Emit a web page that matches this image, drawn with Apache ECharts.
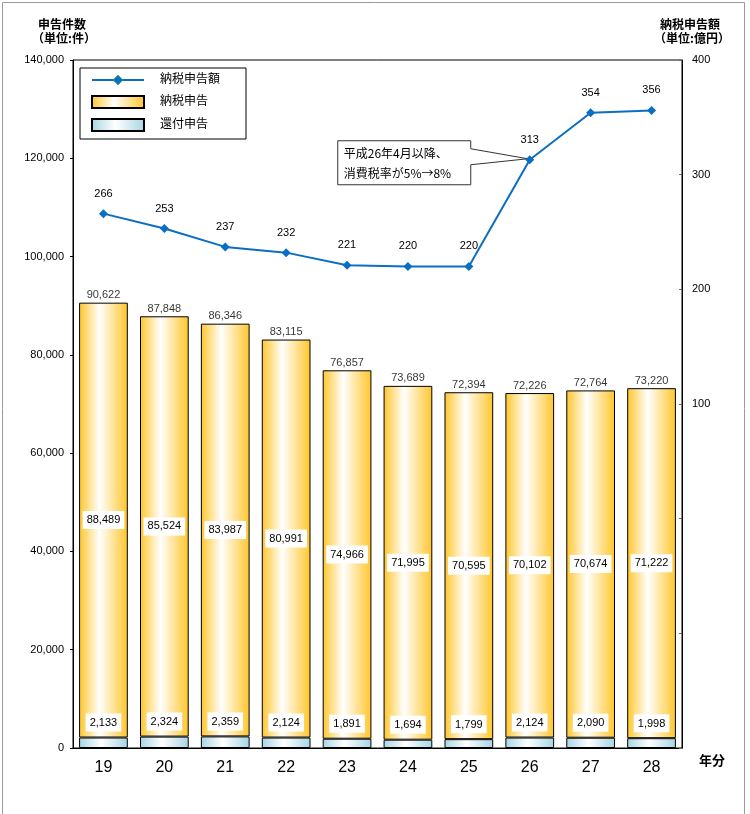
<!DOCTYPE html>
<html><head><meta charset="utf-8">
<script src="https://cdn.jsdelivr.net/npm/echarts@6/dist/echarts.min.js"></script>
<style>html,body{margin:0;padding:0;background:#fff}#c{width:750px;height:814px}</style>
</head><body><div id="c"></div>
<script>
var categories = ['19','20','21','22','23','24','25','26','27','28'];
var taxPayFiled = [88489, 85524, 83987, 80991, 74966, 71995, 70595, 70102, 70674, 71222];
var refundFiled = [2133, 2324, 2359, 2124, 1891, 1694, 1799, 2124, 2090, 1998];
var totalFiled  = [90622, 87848, 86346, 83115, 76857, 73689, 72394, 72226, 72764, 73220];
var taxAmount   = [266, 253, 237, 232, 221, 220, 220, 313, 354, 356];
var leftTicks = {min: 0, max: 140000, interval: 20000};
var rightTicks = {min: -200, max: 400, interval: 100};

var FF = "'Liberation Sans','Noto Sans CJK JP',sans-serif";
var FJ = "'Noto Sans CJK JP','Liberation Sans',sans-serif";
var chart = echarts.init(document.getElementById('c'));
var yellow = {type:'linear',x:0,y:0,x2:1,y2:0,colorStops:[
  {offset:0,color:'#FFC52A'},{offset:0.42,color:'#FFFFFF'},{offset:1,color:'#FFC52A'}]};
var blue = {type:'linear',x:0,y:0,x2:1,y2:0,colorStops:[
  {offset:0,color:'#A5D5E4'},{offset:0.45,color:'#FFFFFF'},{offset:1,color:'#A5D5E4'}]};
var lineColor = '#0A6EC4';
var fmt = function(v){ return Number(v).toLocaleString('en-US'); };

chart.setOption({
  animation: false,
  textStyle: {fontFamily: FF, color: '#000'},
  grid: {left: 73, right: 68, top: 60, bottom: 66, show: true, borderColor: '#000', borderWidth: 1},
  legend: {
    orient: 'vertical', left: 80, top: 68, padding: [6, 26, 7, 11], itemGap: 9,
    itemWidth: 52, itemHeight: 12,
    backgroundColor: '#fff', borderColor: '#000', borderWidth: 1, borderRadius: 0,
    textStyle: {fontSize: 12, fontFamily: FF, color: '#000', padding: [0,0,0,11]},
    data: [{name:'納税申告額', itemStyle: {borderColor: '#2E9E6A', borderWidth: 1}},
           {name:'納税申告', icon: 'rect'}, {name:'還付申告', icon: 'rect'}]
  },
  xAxis: {
    type: 'category', data: categories,
    axisLine: {lineStyle: {color: '#000', width: 1}},
    axisTick: {inside: true, length: 4, lineStyle: {color: '#666'}},
    axisLabel: {fontSize: 16, color: '#000', margin: 12, fontFamily: FF}
  },
  yAxis: [
    {type: 'value', min: leftTicks.min, max: leftTicks.max, interval: leftTicks.interval,
     splitLine: {show: false},
     axisLine: {show: true, lineStyle: {color: '#000'}},
     axisTick: {show: true, length: 3, lineStyle: {color: '#000'}},
     axisLabel: {fontSize: 11, color: '#000', margin: 9, formatter: function(v){return fmt(v);}}},
    {type: 'value', min: rightTicks.min, max: rightTicks.max, interval: rightTicks.interval,
     splitLine: {show: false},
     axisLine: {show: true, lineStyle: {color: '#000'}},
     axisTick: {show: true, inside: true, length: 3, lineStyle: {color: '#666'}},
     axisLabel: {fontSize: 11, color: '#000', margin: 10, formatter: function(v){return v >= 100 ? String(v) : '';}}}
  ],
  series: [
    {name: '還付申告', type: 'bar', stack: 'a', data: refundFiled, barWidth: '80%',
     itemStyle: {color: blue, borderColor: '#000', borderWidth: 1},
     label: {show: true, position: 'top', distance: 6, fontSize: 11, color: '#000',
       backgroundColor: '#fff', padding: [4, 4, 3, 4], formatter: function(p){return fmt(p.value);}}},
    {name: '納税申告', type: 'bar', stack: 'a', data: taxPayFiled, barWidth: '80%',
     itemStyle: {color: yellow, borderColor: '#000', borderWidth: 1},
     label: {show: true, position: 'inside', fontSize: 11, color: '#000',
       backgroundColor: '#fff', padding: [4, 4, 3, 4], formatter: function(p){return fmt(p.value);}}},
    {name: '合計', type: 'scatter', data: totalFiled, symbolSize: 0, silent: true,
     label: {show: true, position: 'top', distance: 2, fontSize: 11, color: '#000',
       formatter: function(p){return fmt(p.value);}}},
    {name: '納税申告額', type: 'line', yAxisIndex: 1, data: taxAmount, z: 5,
     symbol: 'diamond', symbolSize: 9,
     lineStyle: {color: lineColor, width: 2},
     itemStyle: {color: lineColor},
     label: {show: true, position: 'top', distance: 10, fontSize: 11, color: '#000'}}
  ]
});

function addGraphics(){
  var pt = chart.convertToPixel({seriesIndex: 3}, ['26', 313]);
  var L = pt[0]-192, R = pt[0]-59, T = pt[1]-19, B = pt[1]+25;
  chart.setOption({graphic: [
    {type: 'rect', left: 0, top: 0, z: -10, silent: true,
     shape: {x: 0.5, y: 0.5, width: 742, height: 812},
     style: {fill: 'none', stroke: '#9a9a9a', lineWidth: 1}},
    {type: 'text', left: 38, top: 18, style: {text: '申告件数', font: 'bold 12px ' + FJ, fill: '#000'}},
    {type: 'text', left: 32, top: 32, style: {text: '（単位:件）', font: 'bold 12px ' + FJ, fill: '#000'}},
    {type: 'text', left: 660, top: 18, style: {text: '納税申告額', font: 'bold 12px ' + FJ, fill: '#000'}},
    {type: 'text', left: 654, top: 32, style: {text: '（単位:億円）', font: 'bold 12px ' + FJ, fill: '#000'}},
    {type: 'text', left: 699, top: 754, style: {text: '年分', font: 'bold 13px ' + FJ, fill: '#000'}},
    {type: 'polygon', z: 3, silent: true,
     shape: {points: [[L,T],[R,T],[R,pt[1]-11],[pt[0]-2,pt[1]-1],[R,pt[1]+5],[R,B],[L,B]]},
     style: {fill: '#fff', stroke: '#333', lineWidth: 1}},
    {type: 'text', z: 4, silent: true, x: L+6, y: T+3,
     style: {text: '平成26年4月以降、\n消費税率が5%→8%', font: '12px ' + FJ, fill: '#000', lineHeight: 20}}
  ]});
}
addGraphics();
</script></body></html>
